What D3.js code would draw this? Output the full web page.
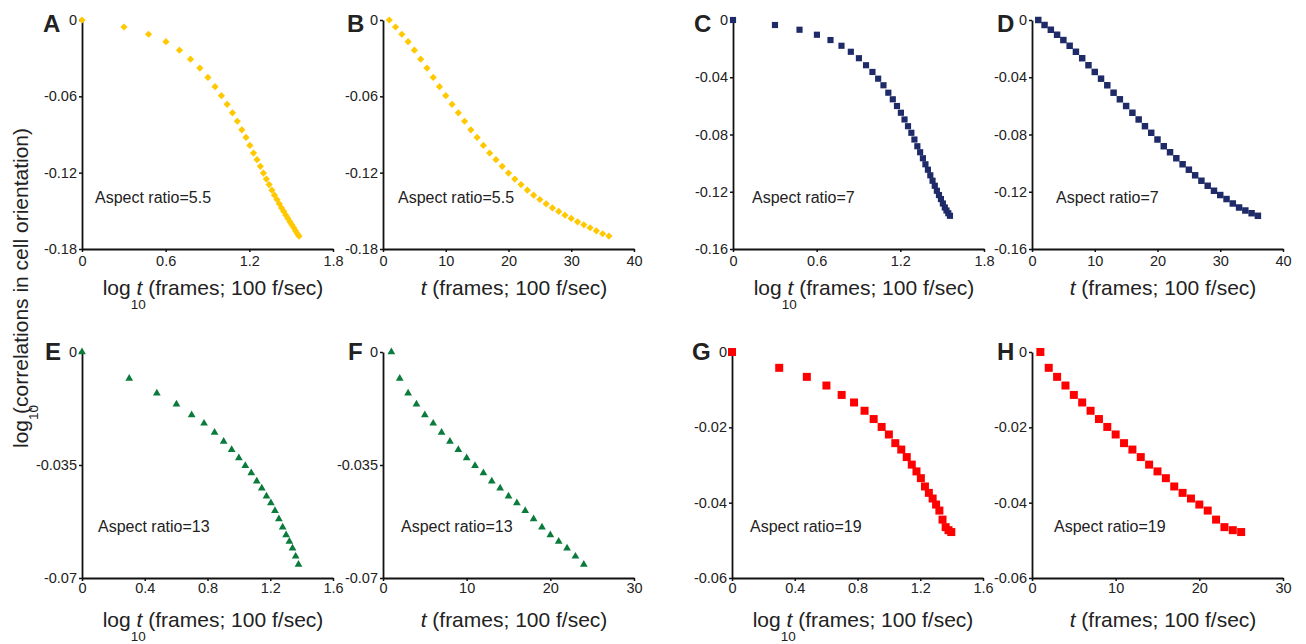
<!DOCTYPE html>
<html>
<head>
<meta charset="utf-8">
<script src="https://cdn.jsdelivr.net/npm/d3@7"></script>
<style>
  body { margin: 0; background: #fff; }
  svg { display: block; font-family: Arial, "Liberation Sans", sans-serif; }
  text { white-space: pre; }
</style>
</head>
<body>
<svg id="fig" width="1306" height="644"></svg>
<script>
// frame index and its log10 (as plotted in the left-hand panels)
var frames36 = [1,2,3,4,5,6,7,8,9,10,11,12,13,14,15,16,17,18,19,20,21,22,23,24,25,26,27,28,29,30,31,32,33,34,35,36];
var frames25 = [1,2,3,4,5,6,7,8,9,10,11,12,13,14,15,16,17,18,19,20,21,22,23,24,25];
var frames24 = [1,2,3,4,5,6,7,8,9,10,11,12,13,14,15,16,17,18,19,20,21,22,23,24];
var logFrames = [0,0.301,0.477,0.602,0.699,0.778,0.845,0.903,0.954,1.000,1.041,1.079,1.114,1.146,1.176,1.204,
  1.230,1.255,1.279,1.301,1.322,1.342,1.362,1.380,1.398,1.415,1.431,1.447,1.462,1.477,1.491,1.505,1.519,1.531,1.544,1.556];

// log10(correlations in cell orientation), one series per aspect ratio
var corr55 = [0,-0.0055,-0.0112,-0.017,-0.0237,-0.0308,-0.0378,-0.0451,-0.0524,-0.0595,-0.0663,-0.073,-0.0796,-0.0863,
  -0.0923,-0.0986,-0.1046,-0.1098,-0.115,-0.1203,-0.125,-0.1294,-0.1338,-0.1377,-0.1411,-0.1445,-0.1477,-0.1505,
  -0.1534,-0.156,-0.1586,-0.161,-0.1633,-0.1657,-0.168,-0.1698];
var corr7 = [0,-0.0035,-0.0068,-0.0103,-0.014,-0.018,-0.0222,-0.0267,-0.0316,-0.0363,-0.041,-0.0456,-0.0508,-0.0554,
  -0.0601,-0.0648,-0.0695,-0.0742,-0.0788,-0.0835,-0.0882,-0.0924,-0.0966,-0.1008,-0.1046,-0.1085,-0.1123,-0.1158,
  -0.1193,-0.1223,-0.1251,-0.1282,-0.131,-0.1331,-0.135,-0.1368];
var corr13 = [0,-0.0082,-0.0128,-0.0162,-0.0195,-0.0221,-0.0249,-0.0277,-0.0303,-0.0328,-0.0352,-0.0375,-0.04,-0.0422,
  -0.0447,-0.0468,-0.0492,-0.0517,-0.0543,-0.0567,-0.0587,-0.0608,-0.0633,-0.0658];
var corr19 = [0,-0.0042,-0.0066,-0.0089,-0.0114,-0.0134,-0.0156,-0.0178,-0.0199,-0.0219,-0.0242,-0.0259,-0.0279,-0.0299,
  -0.0317,-0.0335,-0.0357,-0.0374,-0.0389,-0.0405,-0.0421,-0.0445,-0.0465,-0.0473,-0.0478];

// tick values
var logTicks18 = [0, 0.6, 1.2, 1.8];
var logTicks16 = [0, 0.4, 0.8, 1.2, 1.6];
var tTicks40 = [0, 10, 20, 30, 40];
var tTicks30 = [0, 10, 20, 30];
var yTicks55 = [0, -0.06, -0.12, -0.18];
var yTicks7 = [0, -0.04, -0.08, -0.12, -0.16];
var yTicks13 = [0, -0.035, -0.07];
var yTicks19 = [0, -0.02, -0.04, -0.06];

var yellow = "#ffc800", navy = "#1f2a68", green = "#0b7b3c", red = "#ff0000";

var rows = [
  {top: 20, bottom: 249, titleY: 295, pad: 4, letterY: 32, labelY: 203},
  {top: 352, bottom: 578, titleY: 627, pad: 2, letterY: 360, labelY: 532}
];

var panels = [
  {letter: "A", row: 0, x0: 82, log: true, xd: [0, 1.8], xt: logTicks18, yd: [-0.18, 0], yt: yTicks55,
   xs: logFrames, ys: corr55, shape: "diamond", color: yellow, ratio: "5.5", lx: 13, ldx: 39},
  {letter: "B", row: 0, x0: 383, log: false, xd: [0, 40], xt: tTicks40, yd: [-0.18, 0], yt: yTicks55,
   xs: frames36, ys: corr55, shape: "diamond", color: yellow, ratio: "5.5", lx: 15, ldx: 36},
  {letter: "C", row: 0, x0: 733, log: true, xd: [0, 1.8], xt: logTicks18, yd: [-0.16, 0], yt: yTicks7,
   xs: logFrames, ys: corr7, shape: "square", size: 38, color: navy, ratio: "7", lx: 19, ldx: 39},
  {letter: "D", row: 0, x0: 1032, log: false, xd: [0, 40], xt: tTicks40, yd: [-0.16, 0], yt: yTicks7,
   xs: frames36, ys: corr7, shape: "square", size: 42, color: navy, ratio: "7", lx: 24, ldx: 35},
  {letter: "E", row: 1, x0: 82, log: true, xd: [0, 1.6], xt: logTicks16, yd: [-0.07, 0], yt: yTicks13,
   xs: logFrames, ys: corr13, shape: "triangle", color: green, ratio: "13", lx: 16, ldx: 37},
  {letter: "F", row: 1, x0: 383, log: false, xd: [0, 30], xt: tTicks30, yd: [-0.07, 0], yt: yTicks13,
   xs: frames24, ys: corr13, shape: "triangle", color: green, ratio: "13", lx: 18, ldx: 35},
  {letter: "G", row: 1, x0: 732, log: true, xd: [0, 1.6], xt: logTicks16, yd: [-0.06, 0], yt: yTicks19,
   xs: logFrames, ys: corr19, shape: "square", size: 64, color: red, ratio: "19", lx: 18, ldx: 40},
  {letter: "H", row: 1, x0: 1032, log: false, xd: [0, 30], xt: tTicks30, yd: [-0.06, 0], yt: yTicks19,
   xs: frames25, ys: corr19, shape: "square", size: 64, color: red, ratio: "19", lx: 22, ldx: 35}
];

var svg = d3.select("#fig");
var ink = "#222";

panels.forEach(function (p) {
  var r = rows[p.row];
  var x = d3.scaleLinear().domain(p.xd).range([p.x0, p.x0 + 251]);
  var y = d3.scaleLinear().domain(p.yd).range([r.bottom, r.top]);
  var g = svg.append("g").attr("class", "panel");

  var xAxis = g.append("g")
    .attr("transform", "translate(0," + r.bottom + ")")
    .call(d3.axisBottom(x).tickValues(p.xt).tickSize(3).tickSizeOuter(0)
      .tickPadding(r.pad).tickFormat(function (d) { return String(d); }));
  var yAxis = g.append("g")
    .attr("transform", "translate(" + p.x0 + ",0)")
    .call(d3.axisLeft(y).tickValues(p.yt).tickSize(3).tickSizeOuter(0)
      .tickPadding(2).tickFormat(function (d) { return String(d); }));

  [xAxis, yAxis].forEach(function (a) {
    a.attr("font-family", null).attr("font-size", null);
    a.select(".domain").attr("stroke", "#111").attr("stroke-width", 1.8);
    a.selectAll(".tick line").attr("stroke", "#111").attr("stroke-width", 1.5);
    a.selectAll(".tick text").attr("fill", ink).style("font-size", "14.5px");
  });

  // data marks
  var sym;
  if (p.shape === "diamond") sym = d3.symbol().type(d3.symbolSquare).size(26);
  else if (p.shape === "triangle") sym = d3.symbol().type(d3.symbolTriangle).size(26);
  else sym = d3.symbol().type(d3.symbolSquare).size(p.size);

  g.selectAll("path.pt")
    .data(p.ys)
    .enter()
    .append("path")
    .attr("class", "pt")
    .attr("transform", function (d, i) {
      return "translate(" + x(p.xs[i]) + "," + y(d) + ")" + (p.shape === "diamond" ? " rotate(45)" : "");
    })
    .attr("d", sym)
    .attr("fill", p.color);

  // panel letter
  g.append("text")
    .attr("x", p.x0 - p.ldx)
    .attr("y", r.letterY)
    .attr("font-size", 24)
    .attr("font-weight", "bold")
    .attr("fill", ink)
    .text(p.letter);

  // aspect ratio label
  g.append("text")
    .attr("x", p.x0 + p.lx)
    .attr("y", r.labelY)
    .attr("font-size", 16)
    .attr("fill", ink)
    .text("Aspect ratio=" + p.ratio);

  // x axis title
  var t = g.append("text")
    .attr("x", p.x0 + 131)
    .attr("y", r.titleY)
    .attr("text-anchor", "middle")
    .attr("font-size", 21)
    .attr("fill", ink);
  if (p.log) {
    t.append("tspan").text("log");
    t.append("tspan").attr("font-size", 13.5).attr("dy", 14).text("10");
    t.append("tspan").attr("dy", -14).attr("dx", -15).text(" ");
  }
  t.append("tspan").attr("font-style", "italic").text("t");
  t.append("tspan").text(" (frames; 100 f/sec)");
});

// shared y axis title
var yt = svg.append("text")
  .attr("transform", "translate(28,448) rotate(-90)")
  .attr("font-size", 21)
  .attr("fill", ink);
yt.append("tspan").text("log");
yt.append("tspan").attr("font-size", 13.5).attr("dy", 10).text("10");
yt.append("tspan").attr("dy", -10).attr("dx", -9).text("(correlations in cell orientation)");
</script>
</body>
</html>
